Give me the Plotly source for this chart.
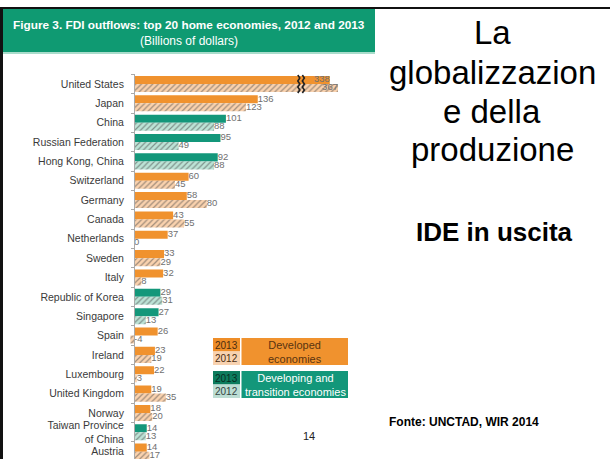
import plotly.graph_objects as go

# ---------------- data ----------------
countries = ["United States", "Japan", "China", "Russian Federation", "Hong Kong, China",
             "Switzerland", "Germany", "Canada", "Netherlands", "Sweden", "Italy",
             "Republic of Korea", "Singapore", "Spain", "Ireland", "Luxembourg",
             "United Kingdom", "Norway", "Taiwan Province<br>of China", "Austria"]
fdi_2013 = [338, 136, 101, 95, 92, 60, 58, 43, 37, 33, 32, 29, 27, 26, 23, 22, 19, 18, 14, 14]
fdi_2012 = [367, 123, 88, 49, 88, 45, 80, 55, 0, 29, 8, 31, 13, -4, 19, 3, 35, 20, 13, 17]
group = ["dev", "dev", "tr", "tr", "tr", "dev", "dev", "dev", "dev", "dev", "dev",
         "tr", "tr", "dev", "dev", "dev", "dev", "dev", "tr", "dev"]

# broken axis for the largest values
BREAK = 160
COMPRESS = 0.31


def disp(v):
    return v if v <= BREAK else BREAK + (v - BREAK) * COMPRESS


W, H = 610, 459
def PX(x): return x / W
def PY(y): return 1 - y / H

ORANGE = "#F0922E"
ORANGE_L = "#FAD2AE"
ORANGE_H = "#F4B478"
GREEN = "#13977A"
GREEN_L = "#BDE3D6"
GREEN_H = "#7CC8B0"
HEADER = "#0F9A72"

idx = list(range(len(countries)))
c13 = [ORANGE if g == "dev" else GREEN for g in group]
c12 = [ORANGE_L if g == "dev" else GREEN_L for g in group]
h12 = [ORANGE_H if g == "dev" else GREEN_H for g in group]
d13 = [disp(v) for v in fdi_2013]
d12 = [disp(v) for v in fdi_2012]

BARGAP = 0.17
half = (1 - BARGAP) / 4  # centre offset of each bar in the group

fig = go.Figure()
fig.add_trace(go.Bar(y=idx, x=d13, orientation="h", name="2013",
                     marker=dict(color=c13, line_width=0), hoverinfo="skip"))
fig.add_trace(go.Bar(y=idx, x=d12, orientation="h", name="2012",
                     marker=dict(color=c12, line_width=0,
                                 pattern=dict(shape="/", fgcolor=h12, size=4,
                                              solidity=0.3, fillmode="overlay")),
                     hoverinfo="skip"))

ARIAL = "Liberation Sans, Arial, sans-serif"
LABFONT = dict(family=ARIAL, size=9.5, color="#707070")
for vals, dv, off in [(fdi_2013, d13, -half), (fdi_2012, d12, half)]:
    fig.add_trace(go.Scatter(
        y=[i + off for i in idx], x=[max(d, 0) for d in dv], mode="text",
        text=[str(v) for v in vals],
        textposition=["middle left" if v > BREAK else "middle right" for v in vals],
        textfont=LABFONT, cliponaxis=False, hoverinfo="skip", showlegend=False))

# break marks on the broken bars
for k, v in enumerate(fdi_2013):
    if v > BREAK:
        for dx in (20, 25):
            x0 = BREAK + dx
            pts = []
            n = 6
            y_top, y_bot = k - 2 * half - 0.05, k + 2 * half + 0.05
            for j in range(n + 1):
                yy = y_top + (y_bot - y_top) * j / n
                xx = x0 + (2.2 if j % 2 else 0)
                pts.append(f"{xx},{yy}")
            fig.add_shape(type="path", path="M" + " L".join(pts), xref="x", yref="y",
                          line=dict(color="#222222", width=1.6))

SCALE = 0.91  # px per unit
ZERO_PX = 134
XMIN = -6
fig.update_layout(
    width=W, height=H, margin=dict(l=0, r=0, t=0, b=0),
    paper_bgcolor="white", plot_bgcolor="rgba(0,0,0,0)",
    barmode="group", bargap=BARGAP, bargroupgap=0, showlegend=False,
    xaxis=dict(visible=False, range=[XMIN, (370 - ZERO_PX) / SCALE],
               domain=[PX(ZERO_PX + XMIN * SCALE), PX(370)]),
    yaxis=dict(range=[(H - 84) / 19.35, -0.5], domain=[0, PY(74.3)],
               tickmode="array", tickvals=idx, ticktext=countries,
               ticks="", showgrid=False, zeroline=False,
               showline=True, linecolor="#aaaaaa", linewidth=1,
               anchor="free", position=PX(ZERO_PX),
               tickfont=dict(family=ARIAL, size=10.5, color="#3a3a3a"),
               ticklabelstandoff=8,
               minor=dict(tickmode="array", tickvals=[i + 0.5 for i in idx] + [-0.5],
                          ticks="outside", ticklen=3, tickcolor="#aaaaaa", showgrid=False)),
)

shapes = []
# frame lines
shapes.append(dict(type="rect", xref="paper", yref="paper", x0=PX(0), x1=PX(W), y0=PY(7), y1=PY(9),
                   fillcolor="#111111", line_width=0))
shapes.append(dict(type="rect", xref="paper", yref="paper", x0=PX(0), x1=PX(3), y0=PY(H), y1=PY(7),
                   fillcolor="#111111", line_width=0))
# header band
shapes.append(dict(type="rect", xref="paper", yref="paper", x0=PX(3), x1=PX(375), y0=PY(52), y1=PY(9),
                   fillcolor=HEADER, line_width=0))
shapes.append(dict(type="rect", xref="paper", yref="paper", x0=PX(3), x1=PX(375), y0=PY(54), y1=PY(52),
                   fillcolor="#A9DCCB", line_width=0))
# legend boxes
shapes += [
    dict(type="rect", xref="paper", yref="paper", x0=PX(213), x1=PX(240), y0=PY(351.5), y1=PY(338),
         fillcolor="#EE8D28", line_width=0),
    dict(type="rect", xref="paper", yref="paper", x0=PX(213), x1=PX(240), y0=PY(365), y1=PY(351.5),
         fillcolor="#F8D2B0", line_width=0),
    dict(type="rect", xref="paper", yref="paper", x0=PX(241.5), x1=PX(348), y0=PY(365), y1=PY(338),
         fillcolor=ORANGE, line_width=0),
    dict(type="rect", xref="paper", yref="paper", x0=PX(213), x1=PX(240), y0=PY(384.5), y1=PY(371),
         fillcolor="#0D7C5E", line_width=0),
    dict(type="rect", xref="paper", yref="paper", x0=PX(213), x1=PX(240), y0=PY(398), y1=PY(384.5),
         fillcolor="#BCDDD3", line_width=0),
    dict(type="rect", xref="paper", yref="paper", x0=PX(241.5), x1=PX(348), y0=PY(398), y1=PY(371),
         fillcolor=GREEN, line_width=0),
]
for s in shapes:
    fig.add_shape(**s)

ann = [
    dict(x=PX(189), y=PY(25), text="<b>Figure 3. FDI outflows: top 20 home economies, 2012 and 2013</b>",
         font=dict(family=ARIAL, size=11.8, color="white")),
    dict(x=PX(189), y=PY(40.5), text="(Billions of dollars)",
         font=dict(family=ARIAL, size=12, color="white")),
    dict(x=PX(226.5), y=PY(345), text="2013", font=dict(family=ARIAL, size=10, color="#4a2c10")),
    dict(x=PX(226.5), y=PY(358), text="2012", font=dict(family=ARIAL, size=10, color="#4a2c10")),
    dict(x=PX(295), y=PY(351.5), text="Developed<br>economies",
         font=dict(family=ARIAL, size=11, color="#5a3410")),
    dict(x=PX(226.5), y=PY(378), text="2013", font=dict(family=ARIAL, size=10, color="#062e22")),
    dict(x=PX(226.5), y=PY(391), text="2012", font=dict(family=ARIAL, size=10, color="#34443e")),
    dict(x=PX(295), y=PY(384.5), text="Developing and<br>transition economies",
         font=dict(family=ARIAL, size=11, color="white")),
    dict(x=PX(309), y=PY(436), text="14", font=dict(family=ARIAL, size=11, color="#222222")),
    dict(x=PX(492), y=PY(33), text="La", font=dict(family=ARIAL, size=33, color="black")),
    dict(x=PX(492), y=PY(72), text="globalizzazion", font=dict(family=ARIAL, size=33, color="black")),
    dict(x=PX(492), y=PY(111), text="e della", font=dict(family=ARIAL, size=33, color="black")),
    dict(x=PX(492), y=PY(150), text="produzione", font=dict(family=ARIAL, size=33, color="black")),
    dict(x=PX(494), y=PY(232), text="<b>IDE in uscita</b>", font=dict(family=ARIAL, size=26, color="black")),
    dict(x=PX(387), y=PY(422), text="<b>Fonte: UNCTAD, WIR 2014</b>", xanchor="left",
         font=dict(family=ARIAL, size=12, color="black")),
]
for a in ann:
    base = dict(xref="paper", yref="paper", showarrow=False, xanchor="center", yanchor="middle")
    base.update(a)
    fig.add_annotation(**base)

fig.write_html("out.html")
